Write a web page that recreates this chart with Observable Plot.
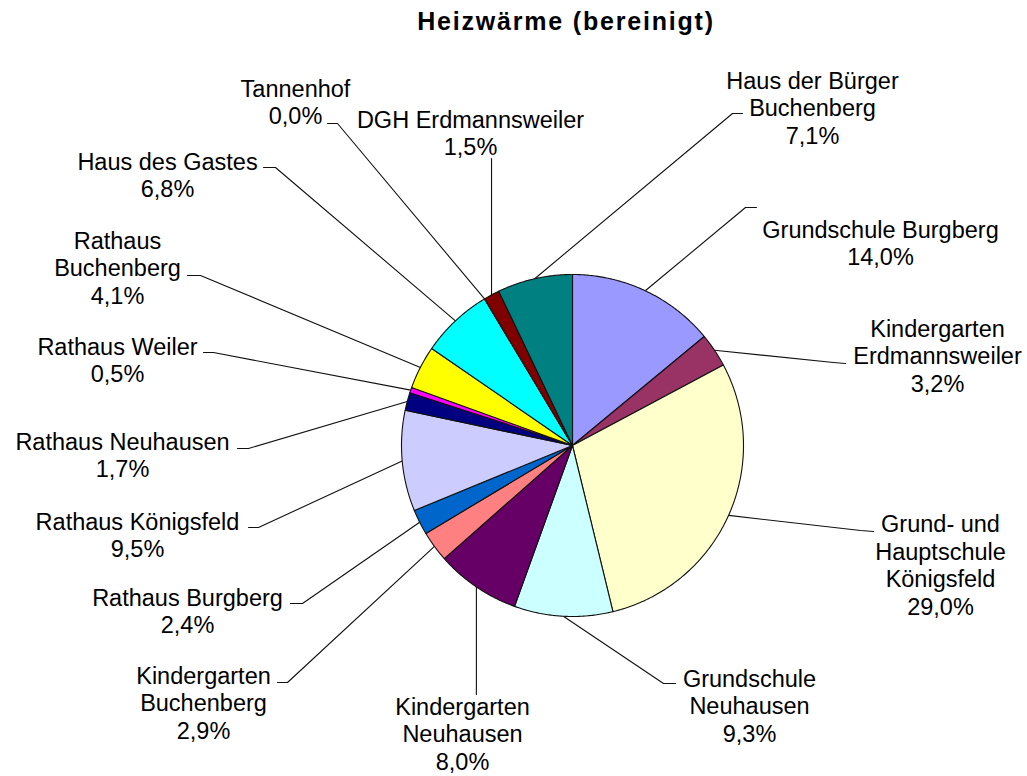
<!DOCTYPE html>
<html>
<head>
<meta charset="utf-8">
<script src="https://cdn.jsdelivr.net/npm/d3@7"></script>
<script src="https://cdn.jsdelivr.net/npm/@observablehq/plot@0.6"></script>
<style>
  html, body { margin: 0; padding: 0; background: #fff; }
  #wrap { width: 1027px; height: 776px; position: relative; overflow: hidden; }
  #title { position: relative; width: 1027px; height: 44px; }
  #title span { position: absolute; left: 566px; top: 9px; transform: translateX(-50%);
    font-family: "Liberation Sans", Arial, sans-serif; font-weight: bold; font-size: 25px;
    line-height: 25px; letter-spacing: 1.8px; white-space: nowrap; color: #000; }
</style>
</head>
<body>
<div id="wrap">
  <div id="title"><span>Heizwärme (bereinigt)</span></div>
  <div id="chart"></div>
</div>
<script>
// ---- data ----
const names = ["Grundschule Burgberg", "Kindergarten Erdmannsweiler", "Grund- und Hauptschule Königsfeld",
  "Grundschule Neuhausen", "Kindergarten Neuhausen", "Kindergarten Buchenberg", "Rathaus Burgberg",
  "Rathaus Königsfeld", "Rathaus Neuhausen", "Rathaus Weiler", "Rathaus Buchenberg", "Haus des Gastes",
  "Tannenhof", "DGH Erdmannsweiler", "Haus der Bürger Buchenberg"];
const labelText = ["Grundschule Burgberg", "Kindergarten\nErdmannsweiler", "Grund- und\nHauptschule\nKönigsfeld",
  "Grundschule\nNeuhausen", "Kindergarten\nNeuhausen", "Kindergarten\nBuchenberg", "Rathaus Burgberg",
  "Rathaus Königsfeld", "Rathaus Neuhausen", "Rathaus Weiler", "Rathaus\nBuchenberg", "Haus des Gastes",
  "Tannenhof", "DGH Erdmannsweiler", "Haus der Bürger\nBuchenberg"];
const shares = [14.0, 3.2, 29.0, 9.3, 8.0, 2.9, 2.4, 9.5, 1.7, 0.5, 4.1, 6.8, 0.0, 1.5, 7.1];
const colors = ["#9999FF", "#993366", "#FFFFCC", "#CCFFFF", "#660066", "#FF8080", "#0066CC",
  "#CCCCFF", "#000080", "#FF00FF", "#FFFF00", "#00FFFF", "#800080", "#800000", "#008080"];

// ---- layout (page pixel coordinates) ----
const W = 1027, TOP = 44, H = 776 - TOP;
const CX = 572, CY = 445, R = 171;
const labelPos = [[880, 242], [937, 355], [940, 564], [749, 705], [462, 733], [203, 702], [187, 610],
  [137, 534], [122, 454], [117, 359], [117, 267], [167, 174], [295, 101], [470, 132], [812, 107]];
const elbow = [[745, 207], [833, 362], [860, 530], [663, 683], [null, 694], [287, 682], [302, 603],
  [258, 527], [248, 448], [213, 352], [200, 275], [275, 167], [337, 123], [null, 158], [732, 113]];
const lineEnd = [[756, 207], [845, 363], [873, 531], [675, 683], [null, 694], [277, 682], [290, 603],
  [248, 527], [237, 448], [203, 352], [187, 275], [263, 167], [327, 123], [null, 158], [742, 113]];

const arcs = d3.pie().sort(null).value(d => d)(shares);

// slice polygons
const slicePts = [];
arcs.forEach((a, i) => {
  const n = Math.max(1, Math.ceil((a.endAngle - a.startAngle) / (Math.PI / 360)));
  slicePts.push({name: names[i], x: CX, y: CY});
  for (let k = 0; k <= n; k++) {
    const t = a.startAngle + (a.endAngle - a.startAngle) * k / n;
    slicePts.push({name: names[i], x: CX + R * Math.sin(t), y: CY - R * Math.cos(t)});
  }
  slicePts.push({name: names[i], x: CX, y: CY});
});

// leader lines
const leaderPts = [];
arcs.forEach((a, i) => {
  const m = (a.startAngle + a.endAngle) / 2;
  const ex = CX + R * Math.sin(m), ey = CY - R * Math.cos(m);
  leaderPts.push({name: names[i], x: ex, y: ey});
  leaderPts.push({name: names[i], x: elbow[i][0] ?? ex, y: elbow[i][1]});
  leaderPts.push({name: names[i], x: lineEnd[i][0] ?? ex, y: lineEnd[i][1]});
});

const fmt = v => v.toFixed(1).replace(".", ",") + "%";
const labels = names.map((n, i) => ({
  name: n, x: labelPos[i][0], y: labelPos[i][1], text: labelText[i] + "\n" + fmt(shares[i])
}));

const chart = Plot.plot({
  width: W, height: H,
  margin: 0,
  x: {domain: [0, W], range: [0, W], axis: null},
  y: {domain: [TOP, TOP + H], range: [0, H], axis: null},
  color: {domain: names, range: colors},
  style: {fontFamily: "'Liberation Sans', Arial, sans-serif", background: "#fff", color: "#000"},
  marks: [
    Plot.line(leaderPts, {x: "x", y: "y", z: "name", stroke: "#111", strokeWidth: 1.1, curve: "linear"}),
    Plot.line(slicePts, {x: "x", y: "y", z: "name", fill: "name", stroke: "#111", strokeWidth: 1.1,
      strokeLinejoin: "round", curve: "linear"}),
    Plot.text(labels, {x: "x", y: "y", text: "text", fontSize: 23.5, lineHeight: 1.17,
      textAnchor: "middle", lineAnchor: "middle", fill: "#000"})
  ]
});
document.getElementById("chart").appendChild(chart);
</script>
</body>
</html>
